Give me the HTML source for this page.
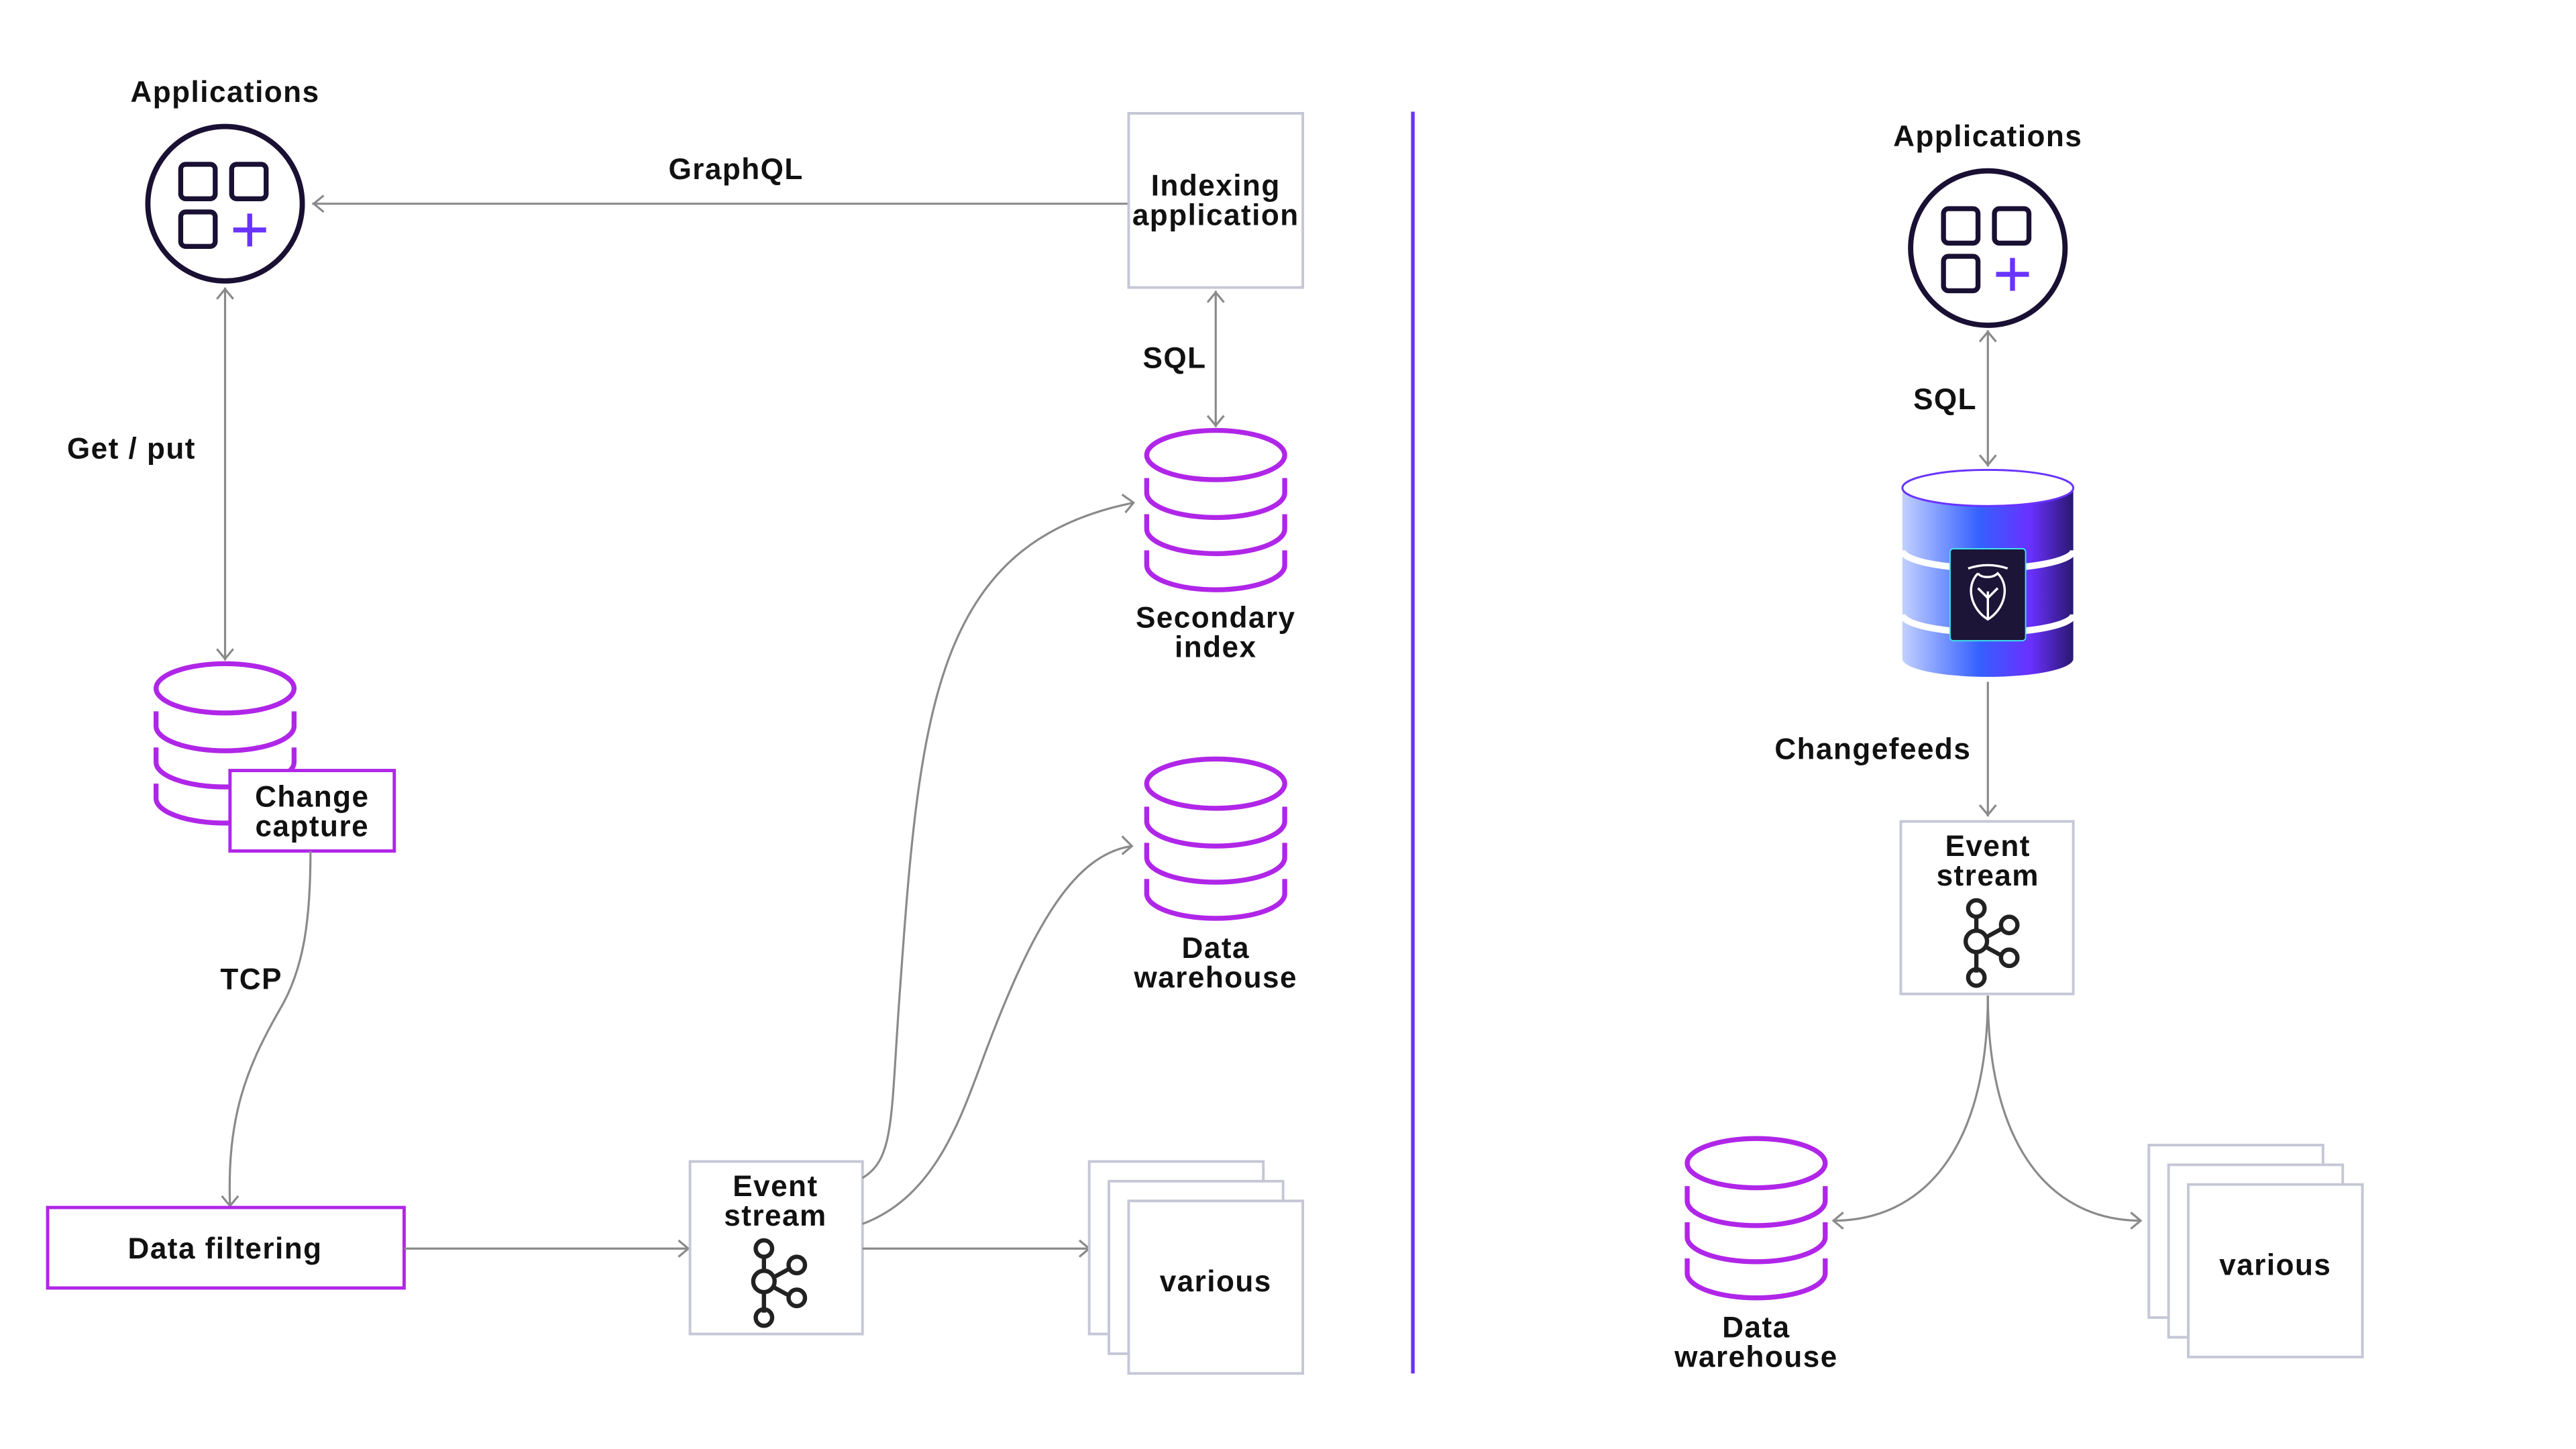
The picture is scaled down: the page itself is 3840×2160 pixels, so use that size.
<!DOCTYPE html>
<html><head><meta charset="utf-8"><style>
html,body{margin:0;padding:0;background:#fff}
svg{display:block}
text{font-family:"Liberation Sans",sans-serif;font-weight:bold;font-size:18px;letter-spacing:0.6px;fill:#111;text-anchor:middle}
.ln{stroke:#8a8a8a;stroke-width:1.3;fill:none}
.ah{stroke:#8a8a8a;stroke-width:1.3;fill:none}
.bx{fill:#fff;stroke:#c5c7d6;stroke-width:1.6}
.db{fill:none;stroke:#b026e8;stroke-width:3}
.k{fill:none;stroke:#222;stroke-width:2.6}
</style></head><body>
<svg width="3840" height="2160" viewBox="0 0 1568 882" preserveAspectRatio="none" xmlns="http://www.w3.org/2000/svg">
<defs>
<linearGradient id="g" x1="0" x2="1" y1="0" y2="0">
<stop offset="0" stop-color="#c2d0ff"/><stop offset="0.45" stop-color="#3560ff"/><stop offset="0.75" stop-color="#6a30ff"/><stop offset="1" stop-color="#2a1870"/>
</linearGradient>
<g id="app">
<circle cx="0" cy="0" r="47" fill="#fff" stroke="#1a1033" stroke-width="3.2"/>
<rect x="-27" y="-24" width="21" height="21" rx="3" fill="none" stroke="#1a1033" stroke-width="3"/>
<rect x="4" y="-24" width="21" height="21" rx="3" fill="none" stroke="#1a1033" stroke-width="3"/>
<rect x="-27" y="5" width="21" height="21" rx="3" fill="none" stroke="#1a1033" stroke-width="3"/>
<path d="M15,6 v20 M5,16 h20" stroke="#6933ff" stroke-width="3"/>
</g>
<g id="db">
<ellipse cx="0" cy="0" rx="42" ry="15" fill="#fff" class="db"/>
<path class="db" d="M-42,14 v9 a42,15 0 0 0 84,0 v-9 M-42,36 v9 a42,15 0 0 0 84,0 v-9 M-42,58 v9 a42,15 0 0 0 84,0 v-9"/>
</g>
<g id="kafka">
<path class="k" d="M0,-15 v9 M0,6 v13 M5,-2 l11,-6 M5,3 l11,6"/>
<circle class="k" cx="0" cy="-20" r="5"/><circle class="k" cx="0" cy="0" r="6.5"/><circle class="k" cx="0" cy="22" r="5"/>
<circle class="k" cx="20" cy="-10" r="5"/><circle class="k" cx="20" cy="10" r="5"/>
</g>
<g id="stack">
<rect class="bx" x="0" y="0" width="106" height="105"/>
<rect class="bx" x="12" y="12" width="106" height="105"/>
<rect class="bx" x="24" y="24" width="106" height="105"/>
</g>
</defs>

<!-- LEFT -->
<text x="137" y="62">Applications</text>
<use href="#app" x="137" y="124"/>
<line class="ln" x1="687" y1="124" x2="190" y2="124"/><path class="ah" d="M197,119 l-6,5 6,5"/>
<text x="448" y="109">GraphQL</text>
<rect class="bx" x="687" y="69" width="106" height="106"/>
<text x="740" y="119">Indexing</text><text x="740" y="137">application</text>
<line class="ln" x1="740" y1="177" x2="740" y2="260"/><path class="ah" d="M735,184 l5,-6 5,6 M735,253 l5,6 5,-6"/>
<text x="715" y="224">SQL</text>
<use href="#db" x="740" y="277"/>
<text x="740" y="382">Secondary</text><text x="740" y="400">index</text>
<use href="#db" x="740" y="477"/>
<text x="740" y="583">Data</text><text x="740" y="601">warehouse</text>

<line class="ln" x1="137" y1="175" x2="137" y2="402"/><path class="ah" d="M132,182 l5,-6 5,6 M132,395 l5,6 5,-6"/>
<text x="80" y="279">Get / put</text>
<use href="#db" x="137" y="419"/>
<rect x="140" y="469" width="100" height="49" fill="#fff" stroke="#b026e8" stroke-width="2"/>
<text x="190" y="491">Change</text><text x="190" y="509">capture</text>
<path class="ln" d="M189,518 C189,560 185,590 170,615 C150,650 138,680 140,734"/><path class="ah" d="M135,728 l5,6 5,-6"/>
<text x="153" y="602">TCP</text>
<rect x="29" y="735" width="217" height="49" fill="#fff" stroke="#b026e8" stroke-width="2"/>
<text x="137" y="766">Data filtering</text>
<line class="ln" x1="246" y1="760" x2="419" y2="760"/><path class="ah" d="M413,755 l6,5 -6,5"/>
<rect class="bx" x="420" y="707" width="105" height="105"/>
<text x="472" y="728">Event</text><text x="472" y="746">stream</text>
<use href="#kafka" x="465" y="780"/>
<path class="ln" d="M525,717 C545,705 542,680 548,600 C560,430 570,330 690,306"/><path class="ah" d="M683,301 l7,5 -5,6"/>
<path class="ln" d="M525,745 C570,728 585,680 600,640 C630,560 655,520 689,515"/><path class="ah" d="M683,509 l6,6 -6,5"/>
<line class="ln" x1="525" y1="760" x2="663" y2="760"/><path class="ah" d="M657,755 l6,5 -6,5"/>
<use href="#stack" x="663" y="707"/>
<text x="740" y="786">various</text>

<line x1="860" y1="68" x2="860" y2="836" stroke="#6933ff" stroke-width="2.2"/>

<!-- RIGHT -->
<text x="1210" y="89">Applications</text>
<use href="#app" x="1210" y="151"/>
<line class="ln" x1="1210" y1="201" x2="1210" y2="284"/><path class="ah" d="M1205,208 l5,-6 5,6 M1205,277 l5,6 5,-6"/>
<text x="1184" y="249">SQL</text>
<path d="M1158,297 V401 A52,11 0 0 0 1262,401 V297 Z" fill="url(#g)"/>
<ellipse cx="1210" cy="297" rx="52" ry="11" fill="#fff" stroke="#6933ff" stroke-width="1.2"/>
<path d="M1158,335 A52,11 0 0 0 1262,335 M1158,374 A52,11 0 0 0 1262,374" fill="none" stroke="#fff" stroke-width="4"/>
<rect x="1187" y="334" width="46" height="56" rx="2" fill="#1c1538" stroke="#3fe0f0" stroke-width="0.8"/>
<path d="M1198,346 q12,-4 24,0 M1204,349 c-8,8 -4,22 6,28 c10,-6 14,-20 6,-28 c-3,3 -10,3 -12,0 M1210,360 v17 M1204,358 l6,6 6,-6" fill="none" stroke="#fff" stroke-width="1.4"/>
<line class="ln" x1="1210" y1="415" x2="1210" y2="497"/><path class="ah" d="M1205,490 l5,6 5,-6"/>
<text x="1140" y="462">Changefeeds</text>
<rect class="bx" x="1157" y="500" width="105" height="105"/>
<text x="1210" y="521">Event</text><text x="1210" y="539">stream</text>
<use href="#kafka" x="1203" y="573"/>
<path class="ln" d="M1210,606 C1210,700 1170,743 1116,743"/><path class="ah" d="M1122,738 l-6,5 6,5"/>
<path class="ln" d="M1210,606 C1210,700 1250,743 1303,743"/><path class="ah" d="M1297,738 l6,5 -6,5"/>
<use href="#db" x="1069" y="708"/>
<text x="1069" y="814">Data</text><text x="1069" y="832">warehouse</text>
<use href="#stack" x="1308" y="697"/>
<text x="1385" y="776">various</text>
</svg>
</body></html>
